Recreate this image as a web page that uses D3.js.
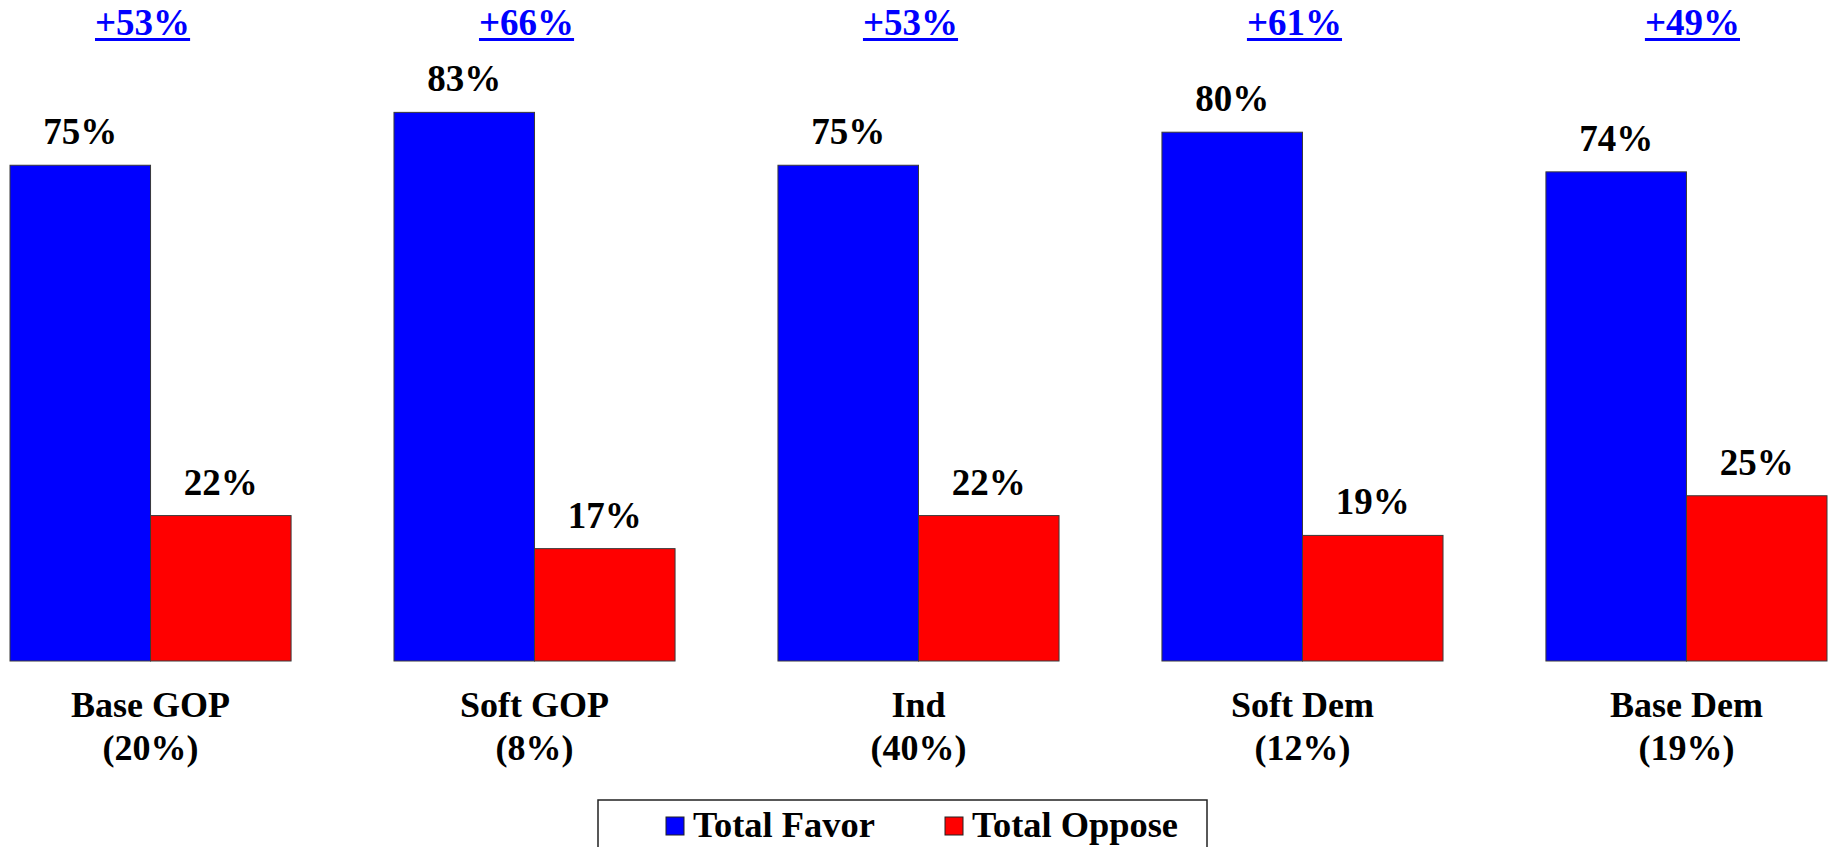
<!DOCTYPE html>
<html>
<head>
<meta charset="utf-8">
<script src="https://cdn.jsdelivr.net/npm/d3@7"></script>
<style>
  html, body { margin: 0; padding: 0; background: #fff; }
  svg { display: block; }
  text { font-family: "Liberation Serif", "Times New Roman", serif; font-weight: bold; }
</style>
</head>
<body>
<div id="chart"></div>
<script>
// data
var groups = ["Base GOP", "Soft GOP", "Ind", "Soft Dem", "Base Dem"]
var groupShares = ["(20%)", "(8%)", "(40%)", "(12%)", "(19%)"]
var series = ["Total Favor", "Total Oppose"]
var favor = [75, 83, 75, 80, 74]
var oppose = [22, 17, 22, 19, 25]
var netLabels = ["+53%", "+66%", "+53%", "+61%", "+49%"]
var colors = ["#0000ff", "#ff0000"]

var width = 1835,
    height = 847;

var svg = d3.select("#chart").append("svg")
    .attr("width", width)
    .attr("height", height)

var x0 = d3.scaleBand()
    .domain(groups)
    .range([10, 1827])
    .paddingInner(0.268)
    .paddingOuter(0)

var x1 = d3.scaleBand()
    .domain(series)
    .range([0, x0.bandwidth()])

var y = d3.scaleLinear()
    .domain([0, 100])
    .range([661, 0])

var color = d3.scaleOrdinal().domain(series).range(colors)

var rows = groups.map((g, i) => ({
    group: g,
    share: groupShares[i],
    net: netLabels[i],
    values: [
        {key: series[0], value: favor[i]},
        {key: series[1], value: oppose[i]}
    ]
}))

var g = svg.selectAll(".grp")
    .data(rows)
    .enter().append("g")
    .attr("class", "grp")
    .attr("transform", d => "translate(" + x0(d.group) + ",0)")

// bars
g.selectAll("rect")
    .data(d => d.values)
    .enter().append("rect")
    .attr("x", d => x1(d.key))
    .attr("y", d => y(d.value))
    .attr("width", x1.bandwidth())
    .attr("height", d => y(0) - y(d.value))
    .attr("fill", d => color(d.key))
    .attr("stroke", "#3a3a3a")
    .attr("stroke-width", 1)

// value labels
g.selectAll(".val")
    .data(d => d.values)
    .enter().append("text")
    .attr("class", "val")
    .attr("x", d => x1(d.key) + x1.bandwidth() / 2)
    .attr("y", d => y(d.value) - 21)
    .attr("text-anchor", "middle")
    .attr("font-size", 37)
    .attr("fill", "#000")
    .text(d => d.value + "%")

// category labels
g.append("text")
    .attr("x", x0.bandwidth() / 2)
    .attr("y", 717)
    .attr("text-anchor", "middle")
    .attr("font-size", 36)
    .text(d => d.group)
g.append("text")
    .attr("x", x0.bandwidth() / 2)
    .attr("y", 760)
    .attr("text-anchor", "middle")
    .attr("font-size", 36)
    .text(d => d.share)

// net labels at top, underlined (last one sits a bit further right)
var net = g.append("text")
    .attr("x", (d, i) => x0.bandwidth() / 2 + (i === groups.length - 1 ? 6 : -8))
    .attr("y", 35)
    .attr("text-anchor", "middle")
    .attr("font-size", 37)
    .attr("fill", "#0000ff")
    .text(d => d.net)

net.each(function () {
    var t = d3.select(this)
    var w = this.getComputedTextLength()
    var cx = +t.attr("x")
    d3.select(this.parentNode).append("rect")
        .attr("x", cx - w / 2)
        .attr("y", 38)
        .attr("width", w)
        .attr("height", 3)
        .attr("fill", "#0000ff")
})

// legend
var legend = svg.append("g")

legend.append("rect")
    .attr("x", 598)
    .attr("y", 800)
    .attr("width", 609)
    .attr("height", 80)
    .attr("fill", "#fff")
    .attr("stroke", "#222")
    .attr("stroke-width", 1.5)

var legX = [666, 945]
var item = legend.selectAll(".item")
    .data(series)
    .enter().append("g")
    .attr("class", "item")
    .attr("transform", (d, i) => "translate(" + legX[i] + ",817)")

item.append("rect")
    .attr("width", 18)
    .attr("height", 18)
    .attr("fill", d => color(d))
    .attr("stroke", "#222")
    .attr("stroke-width", 1)

item.append("text")
    .attr("x", 27)
    .attr("y", 20)
    .attr("font-size", 36)
    .attr("textLength", (d, i) => i === 0 ? 182 : 206)
    .attr("lengthAdjust", "spacingAndGlyphs")
    .text(d => d)
</script>
</body>
</html>
